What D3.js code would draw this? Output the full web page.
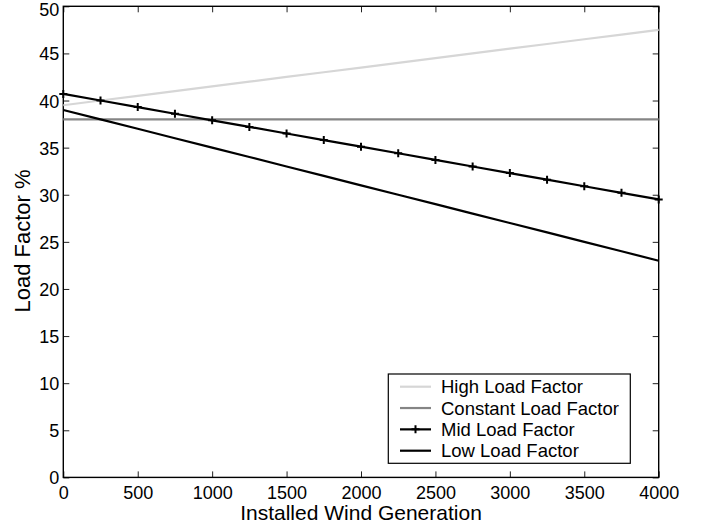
<!DOCTYPE html>
<html>
<head>
<meta charset="utf-8">
<script src="https://cdn.jsdelivr.net/npm/d3@7"></script>
<style>
  html, body { margin: 0; padding: 0; background: #fff; }
  svg { display: block; font-family: "Liberation Sans", Arial, Helvetica, sans-serif; }
</style>
</head>
<body>
<svg id="chart" width="702" height="527"></svg>
<script>
// Installed wind generation (MW) sampled every 250
const installed = [0, 250, 500, 750, 1000, 1250, 1500, 1750, 2000, 2250, 2500, 2750, 3000, 3250, 3500, 3750, 4000];

// Load factor (%) for each scenario
const highLoad = [39.5, 40, 40.5, 41, 41.5, 42, 42.5, 43, 43.5, 44, 44.5, 45, 45.5, 46, 46.5, 47, 47.5];
const constantLoad = [38, 38, 38, 38, 38, 38, 38, 38, 38, 38, 38, 38, 38, 38, 38, 38, 38];
const midLoad = [40.7, 40.0, 39.3, 38.6, 37.9, 37.2, 36.5, 35.8, 35.1, 34.4, 33.7, 33.0, 32.3, 31.6, 30.9, 30.2, 29.5];
const lowLoad = [39, 38, 37, 36, 35, 34, 33, 32, 31, 30, 29, 28, 27, 26, 25, 24, 23];

const seriesNames = ["High Load Factor", "Constant Load Factor", "Mid Load Factor", "Low Load Factor"];
const xTicks = [0, 500, 1000, 1500, 2000, 2500, 3000, 3500, 4000];
const yTicks = [0, 5, 10, 15, 20, 25, 30, 35, 40, 45, 50];

const series = [
  { name: seriesNames[0], values: highLoad, color: "#d6d6d6", marker: false },
  { name: seriesNames[1], values: constantLoad, color: "#858585", marker: false },
  { name: seriesNames[2], values: midLoad, color: "#000", marker: true },
  { name: seriesNames[3], values: lowLoad, color: "#000", marker: false }
];

const svg = d3.select("#chart");
const plotLeft = 63.3, plotRight = 658.7, plotTop = 6.3, plotBottom = 477.4;

const x = d3.scaleLinear().domain([0, 4000]).range([plotLeft, plotRight]);
const y = d3.scaleLinear().domain([0, 50]).range([plotBottom, plotTop]);

// Axes with inward ticks on all four sides
const tickLen = 6;
const bottomAxis = svg.append("g").attr("transform", `translate(0,${plotBottom})`)
  .call(d3.axisBottom(x).tickValues(xTicks).tickSizeInner(-tickLen).tickSizeOuter(0).tickFormat(d3.format("d")));
const leftAxis = svg.append("g").attr("transform", `translate(${plotLeft},0)`)
  .call(d3.axisLeft(y).tickValues(yTicks).tickSizeInner(-tickLen).tickSizeOuter(0).tickFormat(d3.format("d")));
const topAxis = svg.append("g").attr("transform", `translate(0,${plotTop})`)
  .call(d3.axisTop(x).tickValues(xTicks).tickSizeInner(-tickLen).tickSizeOuter(0).tickFormat(""));
const rightAxis = svg.append("g").attr("transform", `translate(${plotRight},0)`)
  .call(d3.axisRight(y).tickValues(yTicks).tickSizeInner(-tickLen).tickSizeOuter(0).tickFormat(""));

[bottomAxis, leftAxis, topAxis, rightAxis].forEach(g => {
  g.select(".domain").remove();
  g.selectAll(".tick line").attr("stroke", "#222").attr("stroke-width", 1);
  g.selectAll(".tick text").attr("fill", "#000").style("font-size", "18px").style("font-family", "Liberation Sans, Arial, sans-serif");
});
bottomAxis.selectAll(".tick text").attr("dy", null).attr("y", 22);
// the topmost label sits just inside the window edge
leftAxis.selectAll(".tick text").attr("x", -4).attr("dy", d => d === 50 ? "0.5em" : "0.36em");

// Frame
svg.append("rect")
  .attr("x", plotLeft).attr("y", plotTop)
  .attr("width", plotRight - plotLeft).attr("height", plotBottom - plotTop)
  .attr("fill", "none").attr("stroke", "#000").attr("stroke-width", 1.4);

// Series lines
const line = d3.line().x((d, i) => x(installed[i])).y(d => y(d));
const plot = svg.append("g");
series.forEach(s => {
  plot.append("path")
    .datum(s.values)
    .attr("d", line)
    .attr("fill", "none")
    .attr("stroke", s.color)
    .attr("stroke-width", 2.2);
  if (s.marker) {
    plot.append("g").selectAll("path")
      .data(s.values)
      .join("path")
      .attr("d", (d, i) => {
        const cx = x(installed[i]), cy = y(d), r = 4;
        return `M${cx - r},${cy}H${cx + r}M${cx},${cy - r}V${cy + r}`;
      })
      .attr("stroke", s.color)
      .attr("stroke-width", 2);
  }
});

// Axis titles
svg.append("text")
  .attr("x", (plotLeft + plotRight) / 2).attr("y", 519.5)
  .attr("text-anchor", "middle")
  .style("font-size", "21px")
  .text("Installed Wind Generation");
svg.append("text")
  .attr("transform", `translate(30,241) rotate(-90)`)
  .attr("text-anchor", "middle")
  .style("font-size", "22px")
  .text("Load Factor %");

// Legend
const legend = svg.append("g");
legend.append("rect")
  .attr("x", 388.3).attr("y", 374)
  .attr("width", 242).attr("height", 89.3)
  .attr("fill", "#fff").attr("stroke", "#000").attr("stroke-width", 1.2);
const rowY = d3.scaleLinear().domain([0, 3]).range([386.7, 450.7]);
series.forEach((s, i) => {
  const cy = rowY(i);
  legend.append("line")
    .attr("x1", 400).attr("x2", 431).attr("y1", cy).attr("y2", cy)
    .attr("stroke", s.color).attr("stroke-width", 2.2);
  if (s.marker) {
    legend.append("path")
      .attr("d", `M${415.5 - 4},${cy}H${415.5 + 4}M${415.5},${cy - 4}V${cy + 4}`)
      .attr("stroke", s.color).attr("stroke-width", 2);
  }
  legend.append("text")
    .attr("x", 441).attr("y", cy + 6.5)
    .style("font-size", "18.5px")
    .text(s.name);
});
</script>
</body>
</html>
